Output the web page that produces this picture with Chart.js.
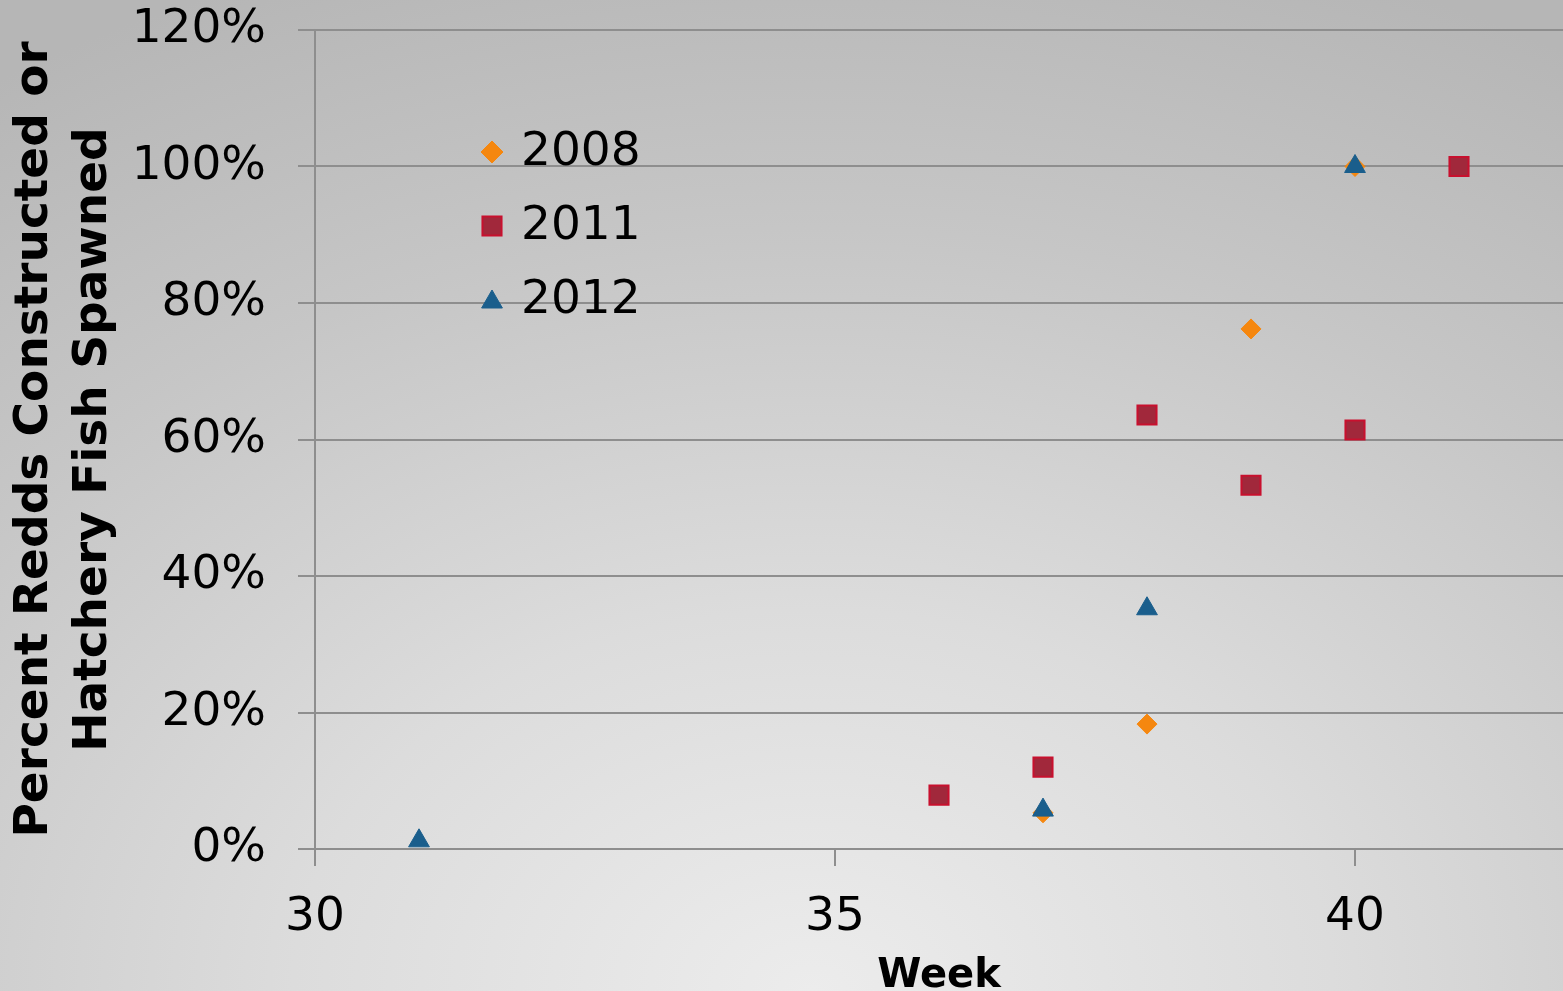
<!DOCTYPE html>
<html>
<head>
<meta charset="utf-8">
<script src="https://cdn.jsdelivr.net/npm/chart.js@4"></script>
<style>
  html, body { margin: 0; padding: 0; overflow: hidden; }
  body {
    width: 1563px; height: 991px;
    background: radial-gradient(ellipse 95% 110% at 52% 100%, #ececec 0%, #dcdcdc 35%, #c6c6c6 70%, #b6b6b6 100%);
  }
  #wrap { width: 1563px; height: 991px; position: relative; }
</style>
</head>
<body>
<div id="wrap"><canvas id="weekChart"></canvas></div>
<script>
// week numbers and cumulative percent spawned per year
var weeks2008 = [37, 38, 39, 40];
var pct2008 = [5.3, 18.3, 76.2, 100];

var weeks2011 = [36, 37, 38, 39, 40, 41];
var pct2011 = [7.9, 12.0, 63.6, 53.3, 61.4, 100];

var weeks2012 = [31, 37, 38, 40];
var pct2012 = [1.2, 5.7, 35.2, 100];

var seriesNames = ['2008', '2011', '2012'];
var yTicks = [0, 20, 40, 60, 80, 100, 120];
var xTicks = [30, 35, 40];

var toPoints = function (xs, ys) {
    return xs.map(function (x, i) { return { x: x, y: ys[i] }; });
};

var gridGray = '#8e8e8e';

// legend drawn inside the plot area, like the original
var insideLegend = {
    id: 'insideLegend',
    afterDraw: function (chart) {
        var c = chart.ctx;
        var x0 = 492, y0 = 152, step = 74;
        chart.data.datasets.forEach(function (ds, i) {
            var y = y0 + i * step;
            c.save();
            c.fillStyle = ds.backgroundColor;
            c.strokeStyle = ds.borderColor;
            c.lineWidth = ds.borderWidth;
            Chart.helpers.drawPoint(c, {
                pointStyle: ds.pointStyle,
                radius: ds.pointStyle === 'rectRot' ? 11 : ds.pointRadius,
                borderWidth: ds.borderWidth
            }, x0, y + (ds.pointStyle === 'triangle' ? 2 : 0));
            c.fillStyle = '#000';
            c.font = '47px "DejaVu Sans"';
            c.textBaseline = 'middle';
            c.textAlign = 'left';
            c.fillText(ds.label, 521, y + 1);
            c.restore();
        });
    }
};

var weekConfig = {
    type: 'scatter',
    data: {
        datasets: [{
            label: seriesNames[0],
            data: toPoints(weeks2008, pct2008),
            pointStyle: 'rectRot',
            pointRadius: 10,
            pointHoverRadius: 10,
            backgroundColor: '#f5870f',
            borderColor: '#f5870f',
            borderWidth: 1,
            order: 2
        }, {
            label: seriesNames[1],
            data: toPoints(weeks2011, pct2011),
            pointStyle: 'rect',
            pointRadius: 13.5,
            pointHoverRadius: 13.5,
            backgroundColor: '#a1283b',
            borderColor: '#c8102e',
            borderWidth: 2,
            order: 1
        }, {
            label: seriesNames[2],
            data: toPoints(weeks2012, pct2012),
            pointStyle: 'triangle',
            pointRadius: 12,
            pointHoverRadius: 12,
            backgroundColor: '#1a5e8c',
            borderColor: '#1a5e8c',
            borderWidth: 1,
            order: 0
        }]
    },
    options: {
        responsive: true,
        maintainAspectRatio: false,
        animation: false,
        layout: { autoPadding: false, padding: { top: 30, right: 0, left: 0, bottom: 0 } },
        plugins: {
            legend: { display: false },
            tooltip: { enabled: false }
        },
        scales: {
            x: {
                type: 'linear',
                min: 30,
                max: 42,
                afterFit: function (scale) {
                    scale.height = 142;
                    scale.paddingLeft = 0;
                    scale.paddingRight = 0;
                },
                afterBuildTicks: function (scale) {
                    scale.ticks = xTicks.map(function (v) { return { value: v }; });
                },
                grid: {
                    display: true,
                    drawOnChartArea: false,
                    drawTicks: true,
                    tickLength: 17,
                    color: gridGray,
                    lineWidth: 2
                },
                border: { display: true, color: gridGray, width: 2 },
                ticks: {
                    color: '#000',
                    padding: 24,
                    maxRotation: 0,
                    font: { family: 'DejaVu Sans', size: 47 }
                },
                title: {
                    display: true,
                    text: 'Week',
                    color: '#000',
                    padding: { top: 0, bottom: -6 },
                    font: { family: 'DejaVu Sans', size: 40, weight: 'bold', lineHeight: 1 }
                }
            },
            y: {
                min: 0,
                max: 120,
                afterFit: function (scale) {
                    scale.width = 315;
                    scale.paddingTop = 0;
                    scale.paddingBottom = 0;
                },
                afterBuildTicks: function (scale) {
                    scale.ticks = yTicks.map(function (v) { return { value: v }; });
                },
                grid: {
                    color: gridGray,
                    lineWidth: 2,
                    tickLength: 17
                },
                border: { display: true, color: gridGray, width: 2 },
                ticks: {
                    color: '#000',
                    padding: 32,
                    font: { family: 'DejaVu Sans', size: 47 },
                    callback: function (v) { return v + '%'; }
                },
                title: {
                    display: true,
                    text: ['Percent Redds Constructed or', 'Hatchery Fish Spawned'],
                    color: '#000',
                    padding: { top: 6, bottom: 0 },
                    font: { family: 'DejaVu Sans', size: 47, weight: 'bold', lineHeight: 1.24 }
                }
            }
        }
    },
    plugins: [insideLegend]
};

const ctx = document.getElementById('weekChart').getContext('2d');
window.weekChart = new Chart(ctx, weekConfig);
</script>
</body>
</html>
